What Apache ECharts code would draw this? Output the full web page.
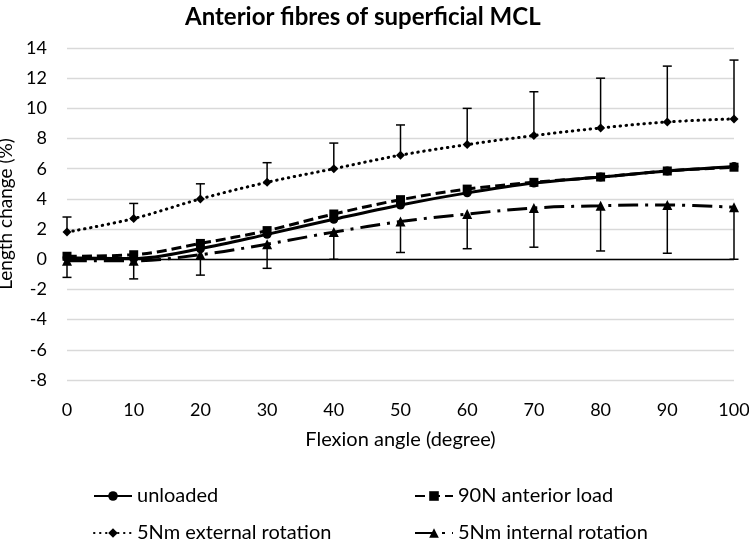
<!DOCTYPE html>
<html>
<head>
<meta charset="utf-8">
<script src="https://cdn.jsdelivr.net/npm/echarts@6/dist/echarts.min.js"></script>
<style>html,body{margin:0;padding:0;background:#fff}#c{width:749px;height:544px}</style>
</head>
<body>
<div id="c"></div>
<script>
var angles = [0, 10, 20, 30, 40, 50, 60, 70, 80, 90, 100];
var unloaded = [0.1, 0.05, 0.7, 1.65, 2.65, 3.6, 4.4, 5.05, 5.45, 5.85, 6.15];
var anterior = [0.2, 0.3, 1.05, 1.9, 3.0, 3.95, 4.65, 5.1, 5.45, 5.85, 6.1];
var external = [1.8, 2.7, 4.0, 5.1, 6.0, 6.9, 7.6, 8.2, 8.7, 9.1, 9.3];
var internal = [-0.1, -0.1, 0.3, 1.0, 1.8, 2.5, 3.0, 3.4, 3.55, 3.6, 3.45];
var externalErrUp = [1.0, 1.0, 1.0, 1.3, 1.7, 2.0, 2.4, 2.9, 3.3, 3.7, 3.9];
var internalErrDown = [1.1, 1.2, 1.35, 1.6, 1.8, 2.05, 2.3, 2.6, 3.0, 3.2, 3.45];
var yTicks = [-8, 14, 2];

var FONT = 'Lato';
function pairs(vals) { return angles.map(function (a, i) { return [a, vals[i]]; }); }

function errSeries(vals, errs, dir) {
  var d = angles.map(function (a, i) { return [a, vals[i], vals[i] + dir * errs[i]]; });
  return {
    type: 'custom', silent: true, z: 1,
    data: d,
    encode: { x: 0, y: [1, 2] },
    renderItem: function (params, api) {
      var p0 = api.coord([api.value(0), api.value(1)]);
      var p1 = api.coord([api.value(0), api.value(2)]);
      var w = 4.5;
      return {
        type: 'group',
        children: [
          { type: 'line', shape: { x1: p0[0], y1: p0[1], x2: p1[0], y2: p1[1] }, style: { stroke: '#000', lineWidth: 1.5 } },
          { type: 'line', shape: { x1: p1[0] - w, y1: p1[1], x2: p1[0] + w, y2: p1[1] }, style: { stroke: '#000', lineWidth: 1.5 } }
        ]
      };
    }
  };
}

function lineSeries(name, vals, symbol, size, lineType, cap) {
  return {
    name: name, type: 'line', data: pairs(vals), smooth: 0.35,
    symbol: symbol, symbolSize: size, z: 3,
    lineStyle: { color: '#000', width: 3, type: lineType, cap: cap || 'butt' },
    itemStyle: { color: '#000' }
  };
}

var chart = echarts.init(document.getElementById('c'));
var legendText = { fontFamily: FONT, fontSize: 20, color: '#000' };
function leg(name, left, top) {
  return { data: [name], left: left, top: top, padding: 0, itemWidth: 38, itemHeight: 12, textStyle: legendText };
}
chart.setOption({
  animation: false,
  title: { text: 'Anterior fibres of superficial MCL', left: 180, top: 0,
    textStyle: { fontFamily: FONT, fontSize: 24, fontWeight: 'bold', color: '#000' } },
  grid: { left: 67, right: 15, top: 48, bottom: 164, containLabel: false, outerBoundsMode: 'none' },
  xAxis: {
    type: 'value', min: 0, max: 100, interval: 10,
    name: 'Flexion angle (degree)', nameLocation: 'middle', nameGap: 50,
    nameTextStyle: { fontFamily: FONT, fontSize: 20, color: '#000' },
    axisLine: { show: false }, axisTick: { show: false }, splitLine: { show: false },
    axisLabel: { fontFamily: FONT, fontSize: 18, color: '#000', margin: 21 }
  },
  yAxis: {
    type: 'value', min: yTicks[0], max: yTicks[1], interval: yTicks[2],
    name: 'Length change (%)', nameLocation: 'middle', nameGap: 48,
    nameTextStyle: { fontFamily: FONT, fontSize: 19, color: '#000' },
    axisLine: { show: false }, axisTick: { show: false },
    splitLine: { lineStyle: { color: '#d9d9d9', width: 1.3 } },
    axisLabel: { fontFamily: FONT, fontSize: 18, color: '#000', margin: 20 }
  },
  legend: [
    leg('unloaded', 93, 486),
    leg('90N anterior load', 414, 486),
    leg('5Nm external rotation', 93, 523),
    leg('5Nm internal rotation', 414, 523)
  ],
  series: [
    {
      type: 'line', data: [], silent: true,
      markLine: { silent: true, symbol: 'none', label: { show: false },
        lineStyle: { color: '#000', type: 'solid', width: 1.3 }, data: [{ yAxis: 0 }] }
    },
    errSeries(external, externalErrUp, 1),
    errSeries(internal, internalErrDown, -1),
    lineSeries('unloaded', unloaded, 'circle', 9, 'solid'),
    lineSeries('90N anterior load', anterior, 'rect', 9, [10, 5]),
    lineSeries('5Nm external rotation', external, 'diamond', 9, [0.5, 5.5], 'round'),
    lineSeries('5Nm internal rotation', internal, 'triangle', 10, [20, 7, 3, 7])
  ]
});
</script>
</body>
</html>
